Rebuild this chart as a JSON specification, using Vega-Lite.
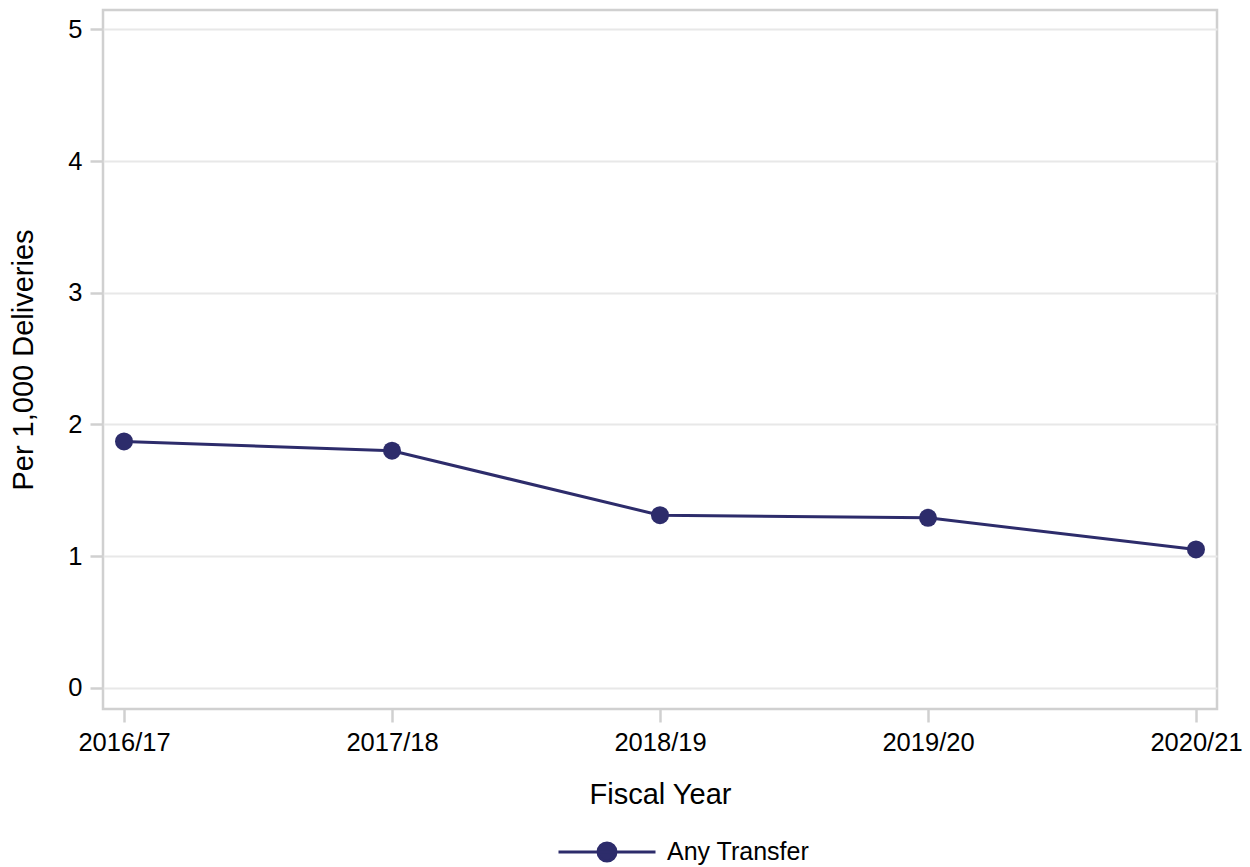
{
  "$schema": "https://vega.github.io/schema/vega-lite/v6.json",
  "width": 1114,
  "height": 699,
  "autosize": {"type": "none"},
  "padding": {"left": 103, "top": 10, "right": 33, "bottom": 158},
  "background": "white",
  "config": {
    "font": "Liberation Sans",
    "view": {"stroke": "#d0d0d0", "strokeWidth": 2.5},
    "axis": {
      "labelFont": "Liberation Sans",
      "titleFont": "Liberation Sans",
      "labelColor": "#000000",
      "titleColor": "#000000",
      "titleFontWeight": "normal",
      "domain": false,
      "tickColor": "#d0d0d0",
      "tickWidth": 2.5,
      "tickSize": 13
    }
  },
  "data": {
    "values": [
      {"year": "2016/17", "rate": 1.87, "series": "Any Transfer"},
      {"year": "2017/18", "rate": 1.80, "series": "Any Transfer"},
      {"year": "2018/19", "rate": 1.31, "series": "Any Transfer"},
      {"year": "2019/20", "rate": 1.29, "series": "Any Transfer"},
      {"year": "2020/21", "rate": 1.05, "series": "Any Transfer"}
    ]
  },
  "mark": {
    "type": "line",
    "strokeWidth": 3,
    "point": {"filled": true, "size": 324, "opacity": 1}
  },
  "encoding": {
    "x": {
      "field": "year",
      "type": "ordinal",
      "scale": {"type": "point", "padding": 0.0784},
      "axis": {
        "title": "Fiscal Year",
        "labelAngle": 0,
        "labelFontSize": 25.5,
        "labelPadding": 8,
        "titleFontSize": 29,
        "titlePadding": 25,
        "grid": false
      }
    },
    "y": {
      "field": "rate",
      "type": "quantitative",
      "scale": {"domain": [-0.162, 5.147], "nice": false, "zero": false},
      "axis": {
        "title": "Per 1,000 Deliveries",
        "values": [0, 1, 2, 3, 4, 5],
        "labelFontSize": 25.5,
        "labelPadding": 8,
        "titleFontSize": 29,
        "titlePadding": 29,
        "grid": true,
        "gridColor": "#e8e8e8",
        "gridWidth": 2
      }
    },
    "color": {
      "field": "series",
      "type": "nominal",
      "scale": {"range": ["#2d2c6b"]},
      "legend": {
        "title": null,
        "orient": "none",
        "legendX": 454,
        "legendY": 792,
        "padding": 0,
        "symbolType": "M-1,0L1,0M-0.1856,0A0.1856,0.1856,0,1,1,0.1856,0A0.1856,0.1856,0,1,1,-0.1856,0Z",
        "symbolSize": 9409,
        "symbolStrokeWidth": 3,
        "labelFontSize": 25,
        "labelColor": "#000000",
        "labelOffset": 10,
        "encode": {
          "symbols": {"update": {"fill": {"value": "#2d2c6b"}, "stroke": {"value": "#2d2c6b"}, "opacity": {"value": 1}}}
        }
      }
    }
  }
}
